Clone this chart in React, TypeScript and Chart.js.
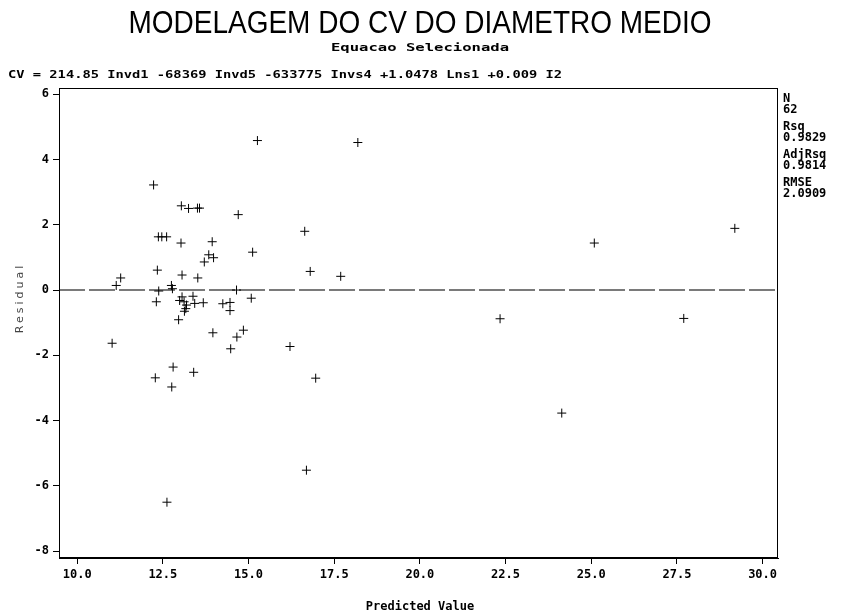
import React, { useEffect, useRef } from "react";
import { Chart, registerables } from "chart.js";

Chart.register(...registerables);

// ---- data ----
const predicted: number[] = [
  13.06, 13.38, 12.99, 13.12, 13.19, 13.17, 13.13, 13.43, 13.68, 14.25,
  14.46, 14.46, 15.08, 12.31, 12.96, 12.38, 14.65, 12.75, 12.78,
  15.26, 18.19, 12.23, 13.04, 13.25, 13.51, 13.57, 14.70, 12.37, 12.47,
  12.61, 13.03, 13.94, 15.12, 13.84, 13.98, 13.71, 12.34, 11.27, 11.14,
  13.06, 13.52, 16.64, 16.80, 17.69, 25.09, 29.19,
  13.96, 14.85, 14.66, 14.48, 11.02, 16.21, 12.80, 12.28, 13.40, 12.76,
  16.96, 16.69, 12.62, 22.34, 27.70, 24.14,
];
const residual: number[] = [
  -0.21, -0.19, -0.32, -0.36, -0.46, -0.57, -0.65, -0.41, -0.39, -0.42,
  -0.38, -0.63, -0.25, -0.36, -0.91, -0.03, 0.0, 0.14, 0.04,
  4.58, 4.52, 3.22, 2.58, 2.5, 2.51, 2.51, 2.31, 1.63, 1.63,
  1.63, 1.44, 1.48, 1.16, 1.08, 0.99, 0.86, 0.61, 0.37, 0.14,
  0.46, 0.37, 1.8, 0.57, 0.42, 1.44, 1.89,
  -1.31, -1.23, -1.44, -1.8, -1.63, -1.73, -2.36, -2.69, -2.52, -2.97,
  -2.7, -5.52, -6.5, -0.88, -0.87, -3.77,
];
const xTicks: number[] = [10, 12.5, 15, 17.5, 20, 22.5, 25, 27.5, 30];
const yTicks: number[] = [6, 4, 2, 0, -2, -4, -6, -8];
const referenceValue = 0;

const titleText = "MODELAGEM DO CV DO DIAMETRO MEDIO";
const subtitleText = "Equacao Selecionada";
const equationText =
  "CV = 214.85 Invd1 -68369 Invd5 -633775 Invs4 +1.0478 Lns1 +0.009 I2";
const statLabels: string[] = ["N", "Rsq", "AdjRsq", "RMSE"];
const statValues: string[] = ["62", "0.9829", "0.9814", "2.0909"];
const xTitle = "Predicted Value";
const yTitle = "Residual";

function fitText(
  ctx: CanvasRenderingContext2D,
  text: string,
  x: number,
  y: number,
  width: number,
  align: "left" | "center"
) {
  const w = ctx.measureText(text).width;
  const s = width / w;
  ctx.save();
  ctx.translate(x, y);
  ctx.scale(s, 1);
  ctx.textAlign = align;
  ctx.fillText(text, 0, 0);
  ctx.restore();
}

const decorPlugin = {
  id: "decor",
  beforeDatasetsDraw(chart: any) {
    const { ctx, chartArea, scales } = chart;
    const y0 = Math.round(scales.y.getPixelForValue(referenceValue));
    ctx.save();
    ctx.strokeStyle = "#7a7a7a";
    ctx.lineWidth = 2;
    ctx.setLineDash([26, 4]);
    ctx.beginPath();
    ctx.moveTo(chartArea.left, y0);
    ctx.lineTo(chartArea.right, y0);
    ctx.stroke();
    ctx.restore();
  },
  afterDraw(chart: any) {
    const { ctx, chartArea } = chart;
    ctx.save();
    // frame
    ctx.strokeStyle = "#000";
    ctx.lineWidth = 1;
    ctx.strokeRect(
      Math.round(chartArea.left) + 0.5,
      Math.round(chartArea.top) + 0.5,
      Math.round(chartArea.right - chartArea.left) - 1,
      Math.round(chartArea.bottom - chartArea.top) - 1
    );
    ctx.fillStyle = "#000";
    ctx.textBaseline = "alphabetic";
    // title
    ctx.font = "31px 'Liberation Sans'";
    fitText(ctx, titleText, 420, 33, 583, "center");
    // subtitle
    ctx.font = "bold 11px 'DejaVu Sans Mono'";
    fitText(ctx, subtitleText, 420, 51, 178, "center");
    // equation
    ctx.font = "bold 11px 'DejaVu Sans Mono'";
    fitText(ctx, equationText, 8, 78, 554, "left");
    // stats
    ctx.font = "bold 12px 'DejaVu Sans Mono'";
    ctx.textAlign = "left";
    ctx.textBaseline = "middle";
    const baseY = 99;
    statLabels.forEach((lab, i) => {
      ctx.fillText(lab, 783, baseY + i * 28);
      ctx.fillText(statValues[i], 783, baseY + 11 + i * 28);
    });
    // x title
    ctx.font = "bold 12px 'DejaVu Sans Mono'";
    ctx.textAlign = "center";
    ctx.fillText(xTitle, 420, 607);
    // y title
    ctx.save();
    ctx.translate(20, 298);
    ctx.rotate(-Math.PI / 2);
    ctx.fillStyle = "#444";
    ctx.font = "11px 'DejaVu Sans'";
    (ctx as any).letterSpacing = "3px";
    ctx.textAlign = "center";
    ctx.fillText(yTitle, 0, 0);
    ctx.restore();
    ctx.restore();
  },
};

export default function App() {
  const ref = useRef<HTMLCanvasElement | null>(null);
  useEffect(() => {
    if (!ref.current) return;
    const points = predicted.map((x, i) => ({ x, y: residual[i] }));
    const tickFont = { family: "'DejaVu Sans Mono'", size: 12, weight: "bold" as const };
    const chart = new Chart(ref.current, {
      type: "scatter",
      data: {
        datasets: [
          {
            data: points,
            pointStyle: "cross",
            pointRadius: 4.5,
            pointBorderWidth: 1,
            borderColor: "#000",
            backgroundColor: "#000",
          },
        ],
      },
      options: {
        animation: false,
        responsive: false,
        layout: { padding: { left: 0, right: 63, top: 88, bottom: 0 } },
        plugins: { legend: { display: false }, tooltip: { enabled: false } },
        scales: {
          x: {
            type: "linear",
            min: 9.47,
            max: 30.45,
            afterBuildTicks: (s: any) => {
              s.ticks = xTicks.map((v) => ({ value: v }));
            },
            afterFit: (s: any) => {
              s.height = 57;
            },
            ticks: {
              color: "#000",
              font: tickFont,
              padding: 4,
              maxRotation: 0,
              autoSkip: false,
              callback: (v: any) => Number(v).toFixed(1),
            },
            grid: { drawOnChartArea: false, drawTicks: true, tickLength: 6, color: "#000" },
            border: { display: true, color: "#000" },
          },
          y: {
            type: "linear",
            min: -8.21,
            max: 6.19,
            afterBuildTicks: (s: any) => {
              s.ticks = yTicks.map((v) => ({ value: v }));
            },
            afterFit: (s: any) => {
              s.width = 59;
            },
            ticks: {
              color: "#000",
              font: tickFont,
              padding: 4,
              autoSkip: false,
              callback: (v: any) => String(v),
            },
            grid: { drawOnChartArea: false, drawTicks: true, tickLength: 6, color: "#000" },
            border: { display: true, color: "#000" },
          },
        },
      },
      plugins: [decorPlugin],
    });
    return () => chart.destroy();
  }, []);
  return (
    <div style={{ position: "fixed", left: 0, top: 0, width: 841, height: 615, background: "#fff" }}>
      <canvas ref={ref} width={841} height={615} style={{ display: "block" }} />
    </div>
  );
}
